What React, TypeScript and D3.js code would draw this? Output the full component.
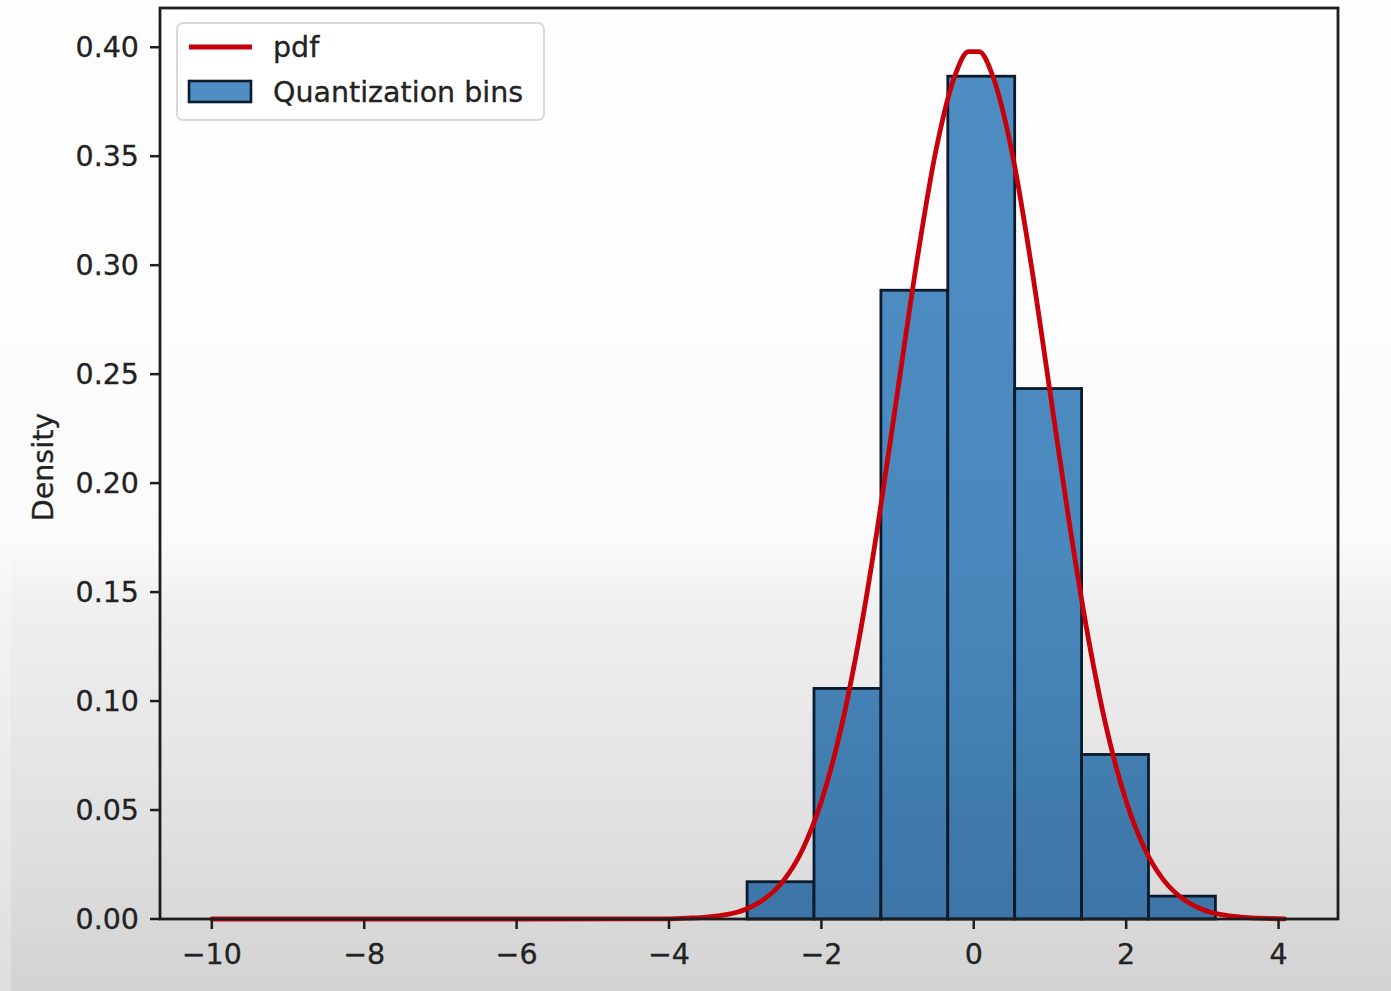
import React from "react";
import * as d3 from "d3";

// Histogram bins (density)
const binEdges = [-2.975, -2.097, -1.219, -0.341, 0.537, 1.415, 2.293, 3.171];
const binDensity = [0.0171, 0.1058, 0.2885, 0.3867, 0.2434, 0.0755, 0.0105];

// pdf curve
const pdfX = [-10, -6, -4.5, -4, -3.75, -3.5, -3.25, -3, -2.75, -2.5, -2.25, -2, -1.75, -1.5, -1.25, -1, -0.75, -0.5, -0.25, -0.07, 0.07, 0.25, 0.5, 0.75, 1, 1.25, 1.5, 1.75, 2, 2.25, 2.5, 2.75, 3, 3.25, 3.5, 3.75, 4.08];
const pdfY = [0, 0, 0.00002, 0.0001, 0.0004, 0.0009, 0.002, 0.0044, 0.0091, 0.0175, 0.0317, 0.054, 0.0863, 0.1295, 0.1826, 0.242, 0.3011, 0.3521, 0.3867, 0.398, 0.398, 0.3867, 0.3521, 0.3011, 0.242, 0.1826, 0.1295, 0.0863, 0.054, 0.0317, 0.0175, 0.0091, 0.0044, 0.002, 0.0009, 0.0004, 0.0001];

const xTicks = [-10, -8, -6, -4, -2, 0, 2, 4];
const yTicks = [0, 0.05, 0.1, 0.15, 0.2, 0.25, 0.3, 0.35, 0.4];

const W = 1391;
const H = 991;
const L = 160, R = 1338, T = 8, B = 919;
const FONT = "'DejaVu Sans', sans-serif";
const FS = 28.5;

export default function App() {
  const x = d3.scaleLinear().domain([-10.68, 4.78]).range([L, R]);
  const y = d3.scaleLinear().domain([0, 0.418]).range([B, T]);

  const pts = pdfX.map((v, i) => [v, pdfY[i]] as [number, number]);
  const line = d3
    .line<[number, number]>()
    .x((d) => x(d[0]))
    .y((d) => y(d[1]))
    .curve(d3.curveMonotoneX);

  const fmtX = (v: number) => (v < 0 ? "\u2212" + Math.abs(v) : String(v));
  const txt = { fontSize: FS, fill: "#222", stroke: "#222", strokeWidth: 0.3 };

  return (
    <svg
      width={W}
      height={H}
      style={{ position: "absolute", left: 0, top: 0 }}
      fontFamily={FONT}
    >
      <defs>
        <linearGradient id="bg" x1="0" y1="0" x2="0" y2={H} gradientUnits="userSpaceOnUse">
          <stop offset="0" stopColor="#fefefe" />
          <stop offset="0.54" stopColor="#fbfbfb" />
          <stop offset="0.62" stopColor="#efefef" />
          <stop offset="0.8" stopColor="#e3e3e3" />
          <stop offset="1" stopColor="#d3d3d3" />
        </linearGradient>
        <linearGradient id="barg" x1="0" y1="0" x2="0" y2={H} gradientUnits="userSpaceOnUse">
          <stop offset="0" stopColor="#4e8ec2" />
          <stop offset="0.55" stopColor="#4a89bd" />
          <stop offset="1" stopColor="#3a71a2" />
        </linearGradient>
      </defs>
      <rect x={0} y={0} width={W} height={H} fill="url(#bg)" />
      <rect x={0} y={560} width={11} height={H - 560} fill="#ffffff" opacity={0.25} />

      {/* bars */}
      {binDensity.map((d, i) => (
        <rect
          key={i}
          x={x(binEdges[i])}
          y={y(d)}
          width={x(binEdges[i + 1]) - x(binEdges[i])}
          height={y(0) - y(d)}
          fill="url(#barg)"
          stroke="#0b1a2c"
          strokeWidth={2.8}
        />
      ))}

      {/* pdf line */}
      <path d={line(pts) || ""} fill="none" stroke="#c8000a" strokeWidth={4.8} strokeLinejoin="round" strokeLinecap="round" />

      {/* spines */}
      <rect x={L} y={T} width={R - L} height={B - T} fill="none" stroke="#1e1e1e" strokeWidth={2.8} />

      {/* y ticks */}
      {yTicks.map((t) => (
        <g key={t}>
          <line x1={L - 10} x2={L} y1={y(t)} y2={y(t)} stroke="#1e1e1e" strokeWidth={2.5} />
          <text x={L - 21} y={y(t)} dy="0.36em" textAnchor="end" {...txt}>
            {t.toFixed(2)}
          </text>
        </g>
      ))}

      {/* x ticks */}
      {xTicks.map((t) => (
        <g key={t}>
          <line x1={x(t)} x2={x(t)} y1={B} y2={B + 10} stroke="#1e1e1e" strokeWidth={2.5} />
          <text x={x(t)} y={964} textAnchor="middle" {...txt}>
            {fmtX(t)}
          </text>
        </g>
      ))}

      {/* y label */}
      <text transform={`translate(53, 467) rotate(-90)`} textAnchor="middle" {...txt}>
        Density
      </text>

      {/* legend */}
      <g>
        <rect x={177} y={23} width={367} height={97} rx={6} fill="#ffffff" fillOpacity={0.85} stroke="#d9d9d9" strokeWidth={2} />
        <line x1={189} x2={252} y1={47} y2={47} stroke="#c8000a" strokeWidth={5} />
        <text x={273} y={47} dy="0.36em" {...txt}>pdf</text>
        <rect x={189} y={81} width={62} height={21} fill="#4e8ec2" stroke="#0b1a2c" strokeWidth={2.6} />
        <text x={273} y={92} dy="0.36em" {...txt}>Quantization bins</text>
      </g>
    </svg>
  );
}
